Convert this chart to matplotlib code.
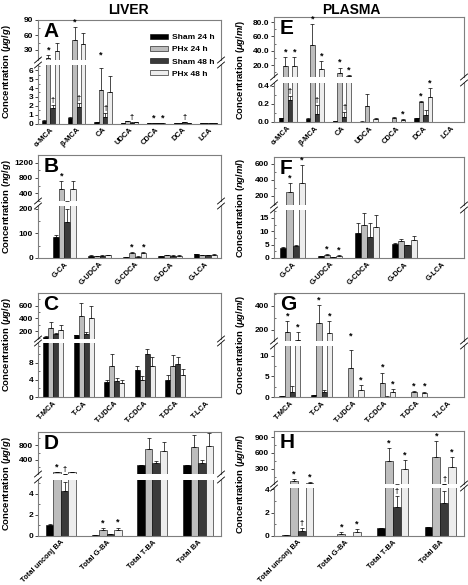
import numpy as np
import matplotlib
matplotlib.use("Agg")
from matplotlib import pyplot as plt
from matplotlib.patches import Patch
from matplotlib.lines import Line2D
from matplotlib.ticker import FixedLocator, FormatStrFormatter, AutoMinorLocator

plt.rcParams['font.family'] = ['Liberation Sans', 'DejaVu Sans']
plt.rcParams['font.weight'] = 'bold'
plt.rcParams['mathtext.fontset'] = 'custom'
plt.rcParams['mathtext.it'] = 'Liberation Sans:italic:bold'
plt.rcParams['mathtext.rm'] = 'Liberation Sans:bold'

#series
groups = ['Sham 24 h', 'PHx 24 h', 'Sham 48 h', 'PHx 48 h']
colors = ['black', '#bdbdbd', '#3a3a3a', '#ededed']

#A: liver unconjugated (ug/g)
a_labels = ['α-MCA', 'β-MCA', 'CA', 'UDCA', 'CDCA', 'DCA', 'LCA']
a_mean = [[0.3, 0.6, 0.15, 0.02, 0.03, 0.05, 0.01],
          [14, 50, 3.8, 0.25, 0.04, 0.08, 0.01],
          [1.8, 1.9, 0.7, 0.1, 0.02, 0.12, 0.01],
          [28, 42, 3.5, 0.15, 0.04, 0.06, 0.01]]
a_err = [[0.05, 0.08, 0.03, 0.01, 0.01, 0.01, 0.005],
         [6, 26, 2.5, 0.05, 0.01, 0.02, 0.005],
         [0.3, 0.4, 0.5, 0.05, 0.01, 0.05, 0.005],
         [16, 23, 1.9, 0.05, 0.01, 0.02, 0.005]]
a_marks = [(0, 1, '*'), (0, 2, '†'), (1, 1, '*'), (1, 2, '†'), (2, 1, '*'), (2, 2, '†'),
           (3, 2, '†'), (4, 1, '*'), (4, 3, '*'), (5, 2, '†')]

#E: plasma unconjugated (ug/ml)
e_labels = a_labels
e_mean = [[0.04, 0.03, 0.01, 0.005, 0.003, 0.04, 0.002],
          [19, 48, 9.5, 0.18, 0.04, 0.22, 0.002],
          [0.24, 0.09, 0.06, 0.003, 0.003, 0.08, 0.002],
          [19, 15, 5, 0.03, 0.025, 0.28, 0.002]]
e_err = [[0.005, 0.01, 0.002, 0.001, 0.001, 0.005, 0],
         [12, 29, 7, 0.13, 0.02, 0.01, 0],
         [0.05, 0.1, 0.05, 0.001, 0.001, 0.05, 0],
         [12, 10, 1, 0.01, 0.005, 0.1, 0]]
e_marks = [(0, 1, '*'), (0, 2, '†'), (0, 3, '*'), (1, 1, '*'), (1, 2, '†'), (1, 3, '*'),
           (2, 1, '*'), (2, 2, '†'), (2, 3, '*'), (4, 3, '*'), (5, 1, '*'), (5, 3, '*')]

#B: liver glycine conjugated (ng/g)
b_labels = ['G-CA', 'G-UDCA', 'G-CDCA', 'G-DCA', 'G-LCA']
b_mean = [[85, 10, 5, 7, 15],
          [500, 9, 22, 13, 11],
          [145, 10, 6, 10, 12],
          [500, 13, 22, 10, 14]]
b_err = [[7, 1, 1, 1, 2],
         [220, 1, 3, 1, 1],
         [55, 1, 1, 1, 1],
         [230, 1, 3, 1, 1]]
b_marks = [(0, 1, '*'), (2, 1, '*'), (2, 3, '*')]

#F: plasma glycine conjugated (ng/ml)
f_labels = b_labels
f_mean = [[3.8, 0.6, 9.2, 5.2, 0.05],
          [245, 1.1, 12.2, 6.2, 0.05],
          [4.5, 0.4, 8.0, 4.7, 0.05],
          [365, 0.9, 11.5, 6.7, 0.1]]
f_err = [[0.2, 0.1, 3.8, 0.3, 0],
         [120, 0.3, 4.5, 1.0, 0],
         [0.3, 0.1, 5.2, 0.3, 0],
         [225, 0.3, 4.8, 1.4, 0]]
f_marks = [(0, 1, '*'), (0, 3, '*'), (1, 1, '*'), (1, 3, '*')]

#C: liver taurine conjugated (ug/g)
c_labels = ['T-MCA', 'T-CA', 'T-UDCA', 'T-CDCA', 'T-DCA', 'T-LCA']
c_mean = [[110, 135, 3.5, 6.3, 4.1, 0.05],
          [250, 440, 7.2, 3.9, 7.2, 0.05],
          [150, 160, 3.7, 10, 7.7, 0.05],
          [215, 410, 3.3, 7.4, 5.2, 0.05]]
c_err = [[10, 10, 0.4, 1.0, 1.0, 0],
         [95, 210, 3.0, 1.0, 2.6, 0],
         [15, 25, 0.8, 1.2, 1.7, 0],
         [80, 190, 0.8, 2.0, 1.5, 0]]
c_marks = []

#G: plasma taurine conjugated (ug/ml)
g_labels = c_labels
g_mean = [[0.2, 0.4, 0.02, 0.02, 0.02, 0.01],
          [180, 260, 7.0, 3.4, 1.3, 0.01],
          [1.3, 1.3, 0.02, 0.1, 0.05, 0.01],
          [115, 175, 1.8, 1.3, 1.0, 0.01]]
g_err = [[0.05, 0.1, 0, 0, 0, 0],
         [95, 145, 4.5, 2.5, 0.2, 0],
         [1.3, 0.5, 0, 0.05, 0, 0],
         [65, 100, 1.1, 0.6, 0.3, 0]]
g_marks = [(0, 1, '*'), (0, 3, '*'), (1, 1, '*'), (1, 3, '*'), (2, 1, '*'), (2, 3, '*'),
           (3, 1, '*'), (3, 3, '*'), (4, 1, '*'), (4, 3, '*')]

#D: liver totals (ug/g)
d_labels = ['Total unconj BA', 'Total G-BA', 'Total T-BA', 'Total BA']
d_mean = [[1.05, 0.1, 250, 260],
          [60, 0.55, 690, 750],
          [4.3, 0.2, 315, 325],
          [60, 0.6, 640, 790]]
d_err = [[0.1, 0.02, 10, 10],
         [12, 0.2, 300, 330],
         [0.8, 0.03, 55, 65],
         [10, 0.2, 260, 330]]
d_marks = [(0, 1, '*'), (0, 2, '†'), (1, 1, '*'), (1, 3, '*')]

#H: plasma totals (ug/ml)
h_labels = d_labels
h_mean = [[0.07, 0.01, 0.65, 0.75],
          [70, 0.2, 450, 530],
          [0.4, 0.01, 2.45, 2.85],
          [40, 0.35, 295, 330]]
h_err = [[0.01, 0, 0.03, 0.03],
         [30, 0.1, 240, 290],
         [0.3, 0, 1.0, 1.0],
         [8, 0.25, 170, 190]]
h_marks = [(0, 1, '*'), (0, 2, '†'), (0, 3, '*'), (1, 1, '*'), (1, 3, '*'),
           (2, 1, '*'), (2, 2, '†'), (2, 3, '*'), (3, 1, '*'), (3, 2, '†'), (3, 3, '*')]

W, H = 468, 585
fig = plt.figure(figsize=(4.68, 5.85), dpi=100)
bw = 0.165
spine_col = '#7f7f7f'


def px_axes(l, r, t, b):
    return fig.add_axes([l / W, 1 - b / H, (r - l) / W, (b - t) / H])


def slash(x, y):
    fig.add_artist(Line2D([(x - 3.5) / W, (x + 3.5) / W], [1 - (y + 3) / H, 1 - (y - 3) / H],
                          color='black', lw=0.6))


def panel(box, split, ylim_up, ylim_lo, labels, mean, err, marks, xlim,
          ticks_up, ticks_lo, fmt, letter, unit, ylab_x):
    l, r, t, b = box
    ub, lt = split
    ax_up = px_axes(l, r, t, ub)
    ax_lo = px_axes(l, r, lt, b)
    n = len(labels)
    x = np.arange(n)
    for ax in (ax_up, ax_lo):
        for i in range(4):
            ax.bar(x + (i - 1.5) * bw, mean[i], bw, color=colors[i], edgecolor='black',
                   linewidth=0.4, yerr=[np.zeros(n), err[i]],
                   error_kw=dict(elinewidth=0.5, capsize=1.3, capthick=0.5, ecolor='black'))
        ax.set_xlim(xlim)
        for s in ax.spines.values():
            s.set_color(spine_col)
            s.set_linewidth(0.8)
        ax.tick_params(axis='y', labelsize=6, length=2, width=0.5, pad=1.5)
        ax.tick_params(axis='y', which='minor', direction='in', length=1.5, width=0.4)
        ax.yaxis.set_major_formatter(FormatStrFormatter(fmt))
        ax.yaxis.set_minor_locator(AutoMinorLocator(2))
    ax_up.set_ylim(ylim_up)
    ax_lo.set_ylim(ylim_lo)
    ax_up.yaxis.set_major_locator(FixedLocator(ticks_up))
    ax_lo.yaxis.set_major_locator(FixedLocator(ticks_lo))
    ax_up.spines['bottom'].set_visible(False)
    ax_lo.spines['top'].set_visible(False)
    ax_up.set_xticks([])
    ax_lo.set_xticks(x)
    ax_lo.set_xticklabels(labels, rotation=45, ha='right', rotation_mode='anchor',
                          fontsize=5.4)
    ax_lo.tick_params(axis='x', length=0, pad=2)
    for xp in (l, r):
        slash(xp, ub)
        slash(xp, lt)
    # significance marks
    for g, s, sym in marks:
        top = mean[s][g] + err[s][g]
        xp = g + (s - 1.5) * bw
        if top < ylim_lo[1] * 0.88:
            ax, yp = ax_lo, top
        elif top < ylim_up[0]:
            ax, yp = ax_up, ylim_up[0]
        else:
            ax, yp = ax_up, top
        ax.annotate(sym, (xp, yp), xytext=(0, 0.5), textcoords='offset points',
                    ha='center', va='bottom', fontsize=6.5 if sym == '*' else 5.5,
                    annotation_clip=False)
    ax_up.text(0.03, 0.96, letter, transform=ax_up.transAxes, fontsize=15,
               fontweight='bold', va='top', ha='left')
    fig.text(ylab_x / W, 1 - (t + b) / 2 / H, 'Concentration $\\mathit{(' + unit + ')}$',
             rotation=90, ha='center', va='center', fontsize=6.8)
    return ax_up, ax_lo


panel((38, 221, 20, 123.5), (60, 65), (10, 90), (0, 6.6), a_labels, a_mean, a_err, a_marks,
      (-0.47, 6.47), [30, 60, 90], [0, 1, 2, 3, 4, 5, 6], '%d', 'A', 'μg/g', 7)
panel((274, 464, 17, 122), (77, 83), (3.3, 87), (0, 0.433), e_labels, e_mean, e_err, e_marks,
      (-0.5, 6.5), [20, 40, 60, 80], [0.0, 0.2, 0.4], '%.1f', 'E', 'μg/ml', 241)
panel((38, 221, 155, 258), (201, 206), (187, 1413), (0, 212), b_labels, b_mean, b_err, b_marks,
      (-0.75, 4.45), [400, 800, 1200], [0, 100, 200], '%d', 'B', 'ng/g', 7)
panel((274, 464, 157, 258), (205, 210), (87, 687), (0, 18), f_labels, f_mean, f_err, f_marks,
      (-0.5, 4.6), [200, 400, 600], [0, 5, 10, 15], '%d', 'F', 'ng/ml', 241)
panel((38, 221, 293, 397), (339, 343), (77, 800), (0, 12.7), c_labels, c_mean, c_err, c_marks,
      (-0.5, 5.5), [200, 400, 600], [0, 4, 8], '%d', 'C', 'μg/g', 7)
panel((274, 464, 293, 397), (341, 346), (108, 508), (0, 12.4), g_labels, g_mean, g_err, g_marks,
      (-0.5, 5.5), [200, 400], [0, 5, 10], '%d', 'G', 'μg/ml', 241)
panel((38, 221, 432, 536), (474, 480), (15, 1160), (0, 5.33), d_labels, d_mean, d_err, d_marks,
      (-0.5, 3.5), [400, 800], [0, 2, 4], '%d', 'D', 'μg/g', 7)
panel((274, 464, 431, 536), (484, 488), (12, 1016), (0, 4.1), h_labels, h_mean, h_err, h_marks,
      (-0.5, 3.5), [300, 600, 900], [0, 2, 4], '%d', 'H', 'μg/ml', 241)

fig.text(128 / W, 1 - 10 / H, 'LIVER', ha='center', va='center', fontsize=10)
fig.text(351 / W, 1 - 10 / H, 'PLASMA', ha='center', va='center', fontsize=10)

handles = [Patch(facecolor=c, edgecolor='black', linewidth=0.4) for c in colors]
fig.legend(handles, groups, loc='upper left', bbox_to_anchor=(150 / W, 1 - 34 / H),
           frameon=False, fontsize=6, handlelength=2.2, handleheight=0.55,
           labelspacing=0.55, handletextpad=0.5, borderpad=0, borderaxespad=0)

fig.savefig('out.png', dpi=100)
